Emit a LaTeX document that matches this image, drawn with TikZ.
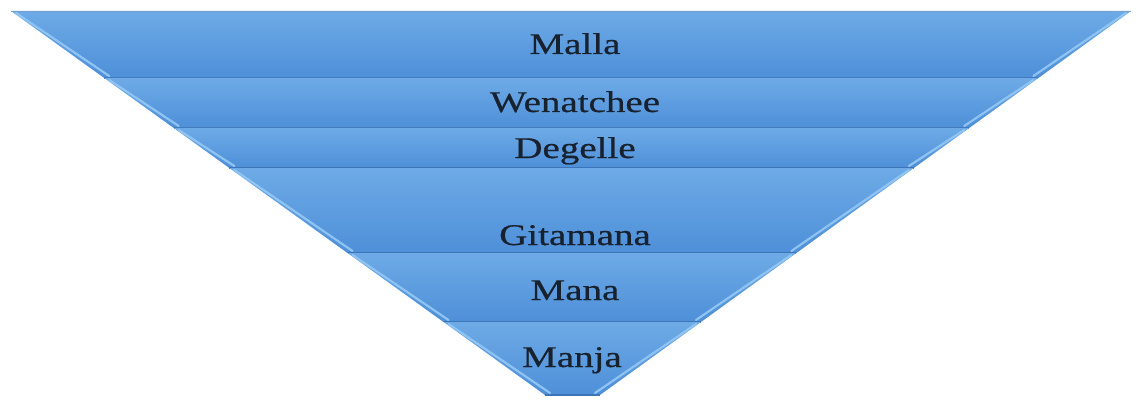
\documentclass[tikz,border=0pt]{standalone}
\usepackage{fontspec}
\setmainfont{Liberation Serif}
\newfontfamily\labelfont[FakeBold=0.5]{Liberation Serif}
\usetikzlibrary{calc}
\definecolor{bandtop}{HTML}{6DAAE6}
\definecolor{bandbot}{HTML}{4E8FD8}
\definecolor{bandline}{HTML}{3D76B8}
\definecolor{bevel}{HTML}{8EC3F2}
\definecolor{labeltext}{HTML}{18222E}
\tikzset{
  bandlabel/.style={font=\labelfont\fontsize{30}{32}\selectfont, text=labeltext, xscale=1.3, inner sep=0pt, anchor=base},
  bevelline/.style={draw=bevel, line width=2.2pt, line cap=round},
  sepline/.style={draw=bandline, line width=1.6pt}
}
\begin{document}
\begin{tikzpicture}[x=1pt,y=-1pt]
\useasboundingbox (0,0) rectangle (1137,401);
\foreach \ya/\yb/\la/\lb/\ra/\rb in {
  11/78/11/104.2/1131/1038.4,
  78/128/104.2/173.7/1038.4/969.2,
  128/168/173.7/229.3/969.2/913.9,
  168/253/229.3/347.5/913.9/796.4,
  253/322/347.5/443.5/796.4/701.0,
  322/395/443.5/545/701.0/600}{
  \shade[top color=bandtop, bottom color=bandbot]
    (\la,\ya) -- (\ra,\ya) -- (\rb,\yb) -- (\lb,\yb) -- cycle;
  \draw[bevelline] ($(\la,\ya)+(5,2)$) -- ($(\lb,\yb)+(5,-2)$);
  \draw[bevelline] ($(\ra,\ya)+(-5,2)$) -- ($(\rb,\yb)+(-5,-2)$);
  \draw[sepline] (\lb,\yb) -- (\rb,\yb);
}
\draw[draw=bandline!70, line width=0.8pt] (11,11) -- (1131,11);
\node[bandlabel] (malla) at (575,54) {Malla};
\node[bandlabel] (wenatchee) at (575,112) {Wenatchee};
\node[bandlabel] (degelle) at (575,158) {Degelle};
\node[bandlabel] (gitamana) at (575,245) {Gitamana};
\node[bandlabel] (mana) at (575,300) {Mana};
\node[bandlabel] (manja) at (572,367) {Manja};
\end{tikzpicture}
\end{document}
